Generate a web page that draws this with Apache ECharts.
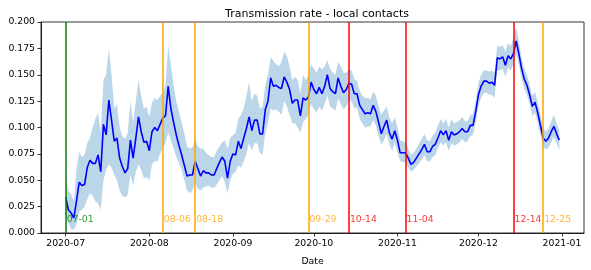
<!DOCTYPE html>
<html>
<head>
<meta charset="utf-8">
<script src="https://cdn.jsdelivr.net/npm/echarts@6/dist/echarts.min.js"></script>
<style>
html,body{margin:0;padding:0;background:#fff;}
#chart{width:591px;height:270px;}
</style>
</head>
<body>
<div id="chart"></div>
<script>
// ---- data ----
const startDate = '2020-07-01';
const rate = [
.034,.022,.019,.014,.030,.048,.045,.046,.062,.069,
.066,.066,.074,.058,.103,.093,.126,.107,.087,.090,
.071,.063,.057,.061,.088,.071,.090,.110,.096,.086,
.087,.078,.096,.100,.097,.103,.109,.111,.139,.118,
.105,.093,.083,.074,.064,.054,.055,.055,.068,.061,
.054,.059,.057,.057,.055,.055,.061,.067,.072,.068,
.052,.068,.075,.074,.087,.080,.090,.099,.110,.097,
.107,.107,.094,.094,.117,.125,.147,.139,.140,.138,
.137,.148,.143,.136,.123,.126,.126,.111,.128,.126,
.129,.143,.136,.132,.138,.132,.139,.150,.137,.134,
.132,.147,.139,.133,.136,.142,.141,.132,.132,.121,
.117,.113,.114,.113,.121,.115,.105,.094,.101,.107,
.095,.089,.097,.088,.076,.076,.076,.071,.065,.067,
.071,.075,.079,.084,.077,.077,.082,.084,.090,.097,
.093,.097,.088,.096,.093,.094,.096,.099,.096,.096,
.102,.102,.115,.131,.139,.144,.144,.142,.143,.140,
.166,.165,.167,.159,.168,.165,.170,.182,.170,.156,
.146,.140,.131,.120,.124,.114,.102,.090,.087,.090,
.096,.101,.094,.088
];
const upper = [
.049,.040,.037,.030,.060,.077,.072,.074,.085,.090,
.100,.108,.114,.095,.145,.150,.175,.150,.118,.122,
.100,.092,.089,.095,.125,.105,.125,.145,.130,.118,
.120,.110,.124,.128,.126,.130,.133,.140,.178,.160,
.140,.125,.115,.105,.094,.082,.080,.081,.090,.082,
.080,.080,.076,.074,.072,.072,.078,.082,.086,.088,
.080,.090,.093,.095,.108,.112,.118,.130,.143,.125,
.132,.130,.118,.120,.140,.150,.167,.163,.160,.158,
.162,.172,.168,.158,.145,.148,.145,.132,.150,.145,
.150,.160,.156,.152,.158,.155,.158,.164,.156,.152,
.150,.162,.158,.152,.152,.155,.154,.146,.144,.135,
.130,.128,.128,.127,.134,.130,.120,.112,.116,.120,
.110,.104,.110,.100,.088,.087,.086,.080,.074,.076,
.080,.085,.089,.094,.088,.087,.092,.095,.102,.108,
.104,.108,.100,.108,.104,.105,.107,.110,.106,.106,
.112,.112,.125,.142,.150,.154,.154,.153,.154,.152,
.178,.176,.178,.172,.180,.177,.185,.195,.182,.166,
.156,.150,.141,.130,.134,.124,.112,.100,.096,.099,
.106,.112,.104,.097
];
const lower = [
.019,.010,.004,.003,.008,.020,.022,.025,.032,.038,
.035,.030,.028,.022,.050,.060,.065,.062,.055,.050,
.040,.035,.034,.036,.055,.045,.058,.065,.060,.052,
.053,.050,.065,.068,.068,.075,.080,.085,.095,.088,
.080,.072,.066,.060,.050,.040,.038,.040,.048,.042,
.040,.043,.044,.045,.043,.043,.046,.050,.054,.048,
.038,.050,.056,.058,.064,.062,.068,.075,.085,.078,
.085,.085,.076,.074,.095,.104,.118,.116,.117,.115,
.112,.125,.120,.112,.104,.104,.100,.095,.105,.108,
.112,.122,.118,.114,.120,.116,.122,.130,.120,.118,
.116,.128,.122,.117,.120,.126,.125,.118,.119,.108,
.104,.100,.101,.101,.107,.102,.092,.084,.088,.094,
.084,.078,.086,.077,.068,.067,.067,.062,.058,.060,
.063,.066,.070,.074,.068,.068,.072,.074,.080,.086,
.083,.086,.078,.085,.083,.084,.086,.089,.086,.087,
.092,.093,.105,.120,.128,.133,.133,.131,.131,.128,
.154,.154,.156,.148,.157,.154,.160,.170,.160,.146,
.137,.131,.122,.111,.114,.104,.093,.082,.079,.081,
.086,.091,.085,.079
];
const eventDates = ['2020-07-01','2020-08-06','2020-08-18','2020-09-29','2020-10-14','2020-11-04','2020-12-14','2020-12-25'];
const eventLabels = ['07-01','08-06','08-18','09-29','10-14','11-04','12-14','12-25'];
const tickLabels = ['2020-07','2020-08','2020-09','2020-10','2020-11','2020-12','2021-01'];
const yTicks = [0, 0.025, 0.05, 0.075, 0.1, 0.125, 0.15, 0.175, 0.2];

// ---- styles ----
const eventColors = ['#008000','#ffa500','#ffa500','#ffa500','#ff0000','#ff0000','#ff0000','#ffa500'];
const FONT = 'DejaVu Sans';
const DAY = 86400000;
const eventLabelY = 0.013;

function ts(s){ const p = s.split('-').map(Number); return Date.UTC(p[0], p[1]-1, p[2] || 1); }
const t0 = ts(startDate);
const xs = rate.map((v,i) => t0 + i*DAY);
const span = xs[xs.length-1] - xs[0];
const xMin = xs[0] - 0.05*span, xMax = xs[xs.length-1] + 0.05*span;
const tickTs = tickLabels.map(ts);

const chart = echarts.init(document.getElementById('chart'), null, {renderer:'canvas'});
chart.setOption({
  animation: false,
  backgroundColor: '#fff',
  title: {
    text: 'Transmission rate - local contacts',
    left: 312, textAlign: 'center', top: 4,
    textStyle: {fontFamily: FONT, fontSize: 11, fontWeight: 'normal', color: '#000'}
  },
  grid: {left: 41, right: 7, top: 22, bottom: 37, show: true, borderColor: '#000', borderWidth: 0.8, outerBoundsMode: 'none'},
  xAxis: {
    type: 'value', min: xMin, max: xMax,
    name: 'Date', nameLocation: 'middle', nameGap: 24,
    nameTextStyle: {fontFamily: FONT, fontSize: 9.3, color: '#000'},
    axisLine: {show: true, lineStyle: {color: '#000', width: 0.8}},
    axisTick: {show: true, length: 3.5, customValues: tickTs, lineStyle: {color: '#000', width: 0.8}},
    axisLabel: {customValues: tickTs, margin: 6, fontFamily: FONT, fontSize: 9.3, color: '#000',
      formatter: v => { const i = tickTs.indexOf(v); return i >= 0 ? tickLabels[i] : ''; }},
    splitLine: {show: false}
  },
  yAxis: {
    type: 'value', min: 0, max: 0.2, interval: 0.025,
    axisLine: {show: true, lineStyle: {color: '#000', width: 0.8}},
    axisTick: {show: true, length: 3.5, lineStyle: {color: '#000', width: 0.8}},
    axisLabel: {margin: 6, fontFamily: FONT, fontSize: 9.3, color: '#000', formatter: v => v.toFixed(3)},
    splitLine: {show: false}
  },
  series: [
    {
      type: 'custom', z: 1, silent: true,
      data: xs.map((x,i) => [x, lower[i], upper[i]]),
      encode: {x: 0, y: [1,2]},
      renderItem: function(params, api){
        if (params.dataIndex !== 0) return null;
        const pts = [];
        for (let i = 0; i < xs.length; i++) pts.push(api.coord([xs[i], upper[i]]));
        for (let i = xs.length-1; i >= 0; i--) pts.push(api.coord([xs[i], lower[i]]));
        return {type: 'polygon', shape: {points: pts}, style: {fill: 'rgba(31,119,180,0.3)', stroke: 'none'}};
      }
    },
    {
      type: 'line', z: 3, silent: true, showSymbol: false,
      data: xs.map((x,i) => [x, rate[i]]),
      lineStyle: {color: '#0000ff', width: 1.6}
    },
    {
      type: 'scatter', z: 5, silent: true, symbolSize: 0,
      data: eventDates.map((d,i) => ({
        value: [ts(d), eventLabelY],
        label: {show: true, position: 'right', distance: 1, formatter: eventLabels[i],
          color: eventColors[i], fontFamily: FONT, fontSize: 9.3}
      })),
      markLine: {
        silent: true, symbol: ['none','none'], animation: false,
        label: {show: false},
        data: eventDates.map((d,i) => ({xAxis: ts(d), lineStyle: {color: eventColors[i], width: 1.5, type: 'solid'}}))
      }
    }
  ]
});
</script>
</body>
</html>
